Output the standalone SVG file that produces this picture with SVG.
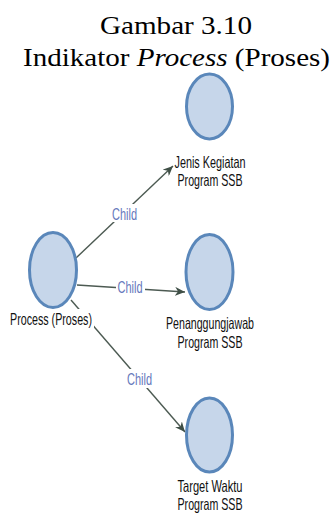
<svg xmlns="http://www.w3.org/2000/svg" width="332" height="514" viewBox="0 0 332 514">
<style>
.title{font-family:"Liberation Serif","Times New Roman",serif;font-size:26px;fill:#000;text-anchor:middle}
.node{fill:#c6d6ea;stroke:#5a87ba;stroke-width:3}
.lbl{font-family:"Liberation Sans",Arial,sans-serif;font-size:16.5px;fill:#111;text-anchor:middle}
.edge{stroke:#4c5a52;stroke-width:1.4;fill:none}
.elbl{font-family:"Liberation Sans",Arial,sans-serif;font-size:16px;fill:#6577bb;text-anchor:middle}
.bg{fill:#fff}
</style>
<defs>
<marker id="arr" markerUnits="userSpaceOnUse" markerWidth="11" markerHeight="9" refX="10" refY="4.5" orient="auto">
<path d="M0,0 L10,4.5 L0,9 L3,4.5 z" fill="#3f4f46"/>
</marker>
</defs>
<rect width="332" height="514" fill="#fff"/>
<g id="title">
<text class="title" x="176" y="34" textLength="152" lengthAdjust="spacingAndGlyphs">Gambar 3.10</text>
<text class="title" x="176.5" y="66" textLength="307" lengthAdjust="spacingAndGlyphs">Indikator <tspan font-style="italic">Process</tspan> (Proses)</text>
</g>
<g id="connectors">
<line class="edge" x1="76" y1="258" x2="173" y2="166" marker-end="url(#arr)"/>
<line class="edge" x1="77" y1="285" x2="185" y2="292" marker-end="url(#arr)"/>
<line class="edge" x1="71" y1="300" x2="185" y2="432" marker-end="url(#arr)"/>
<rect class="bg" x="110" y="204" width="29" height="18"/>
<text class="elbl" x="124.5" y="219.5" textLength="25" lengthAdjust="spacingAndGlyphs">Child</text>
<rect class="bg" x="116" y="278" width="29" height="18"/>
<text class="elbl" x="130" y="293" textLength="25" lengthAdjust="spacingAndGlyphs">Child</text>
<rect class="bg" x="125" y="369" width="29" height="19"/>
<text class="elbl" x="139.5" y="385" textLength="25" lengthAdjust="spacingAndGlyphs">Child</text>
</g>
<g id="node-process">
<ellipse class="node" cx="53" cy="270" rx="23.5" ry="37.5"/>
<rect class="bg" x="8" y="309" width="86" height="21"/>
<text class="lbl" x="51" y="325" textLength="82" lengthAdjust="spacingAndGlyphs">Process (Proses)</text>
</g>
<g id="node-jenis">
<ellipse class="node" cx="209.5" cy="106.5" rx="23" ry="32.5"/>
<text class="lbl" x="210" y="168" textLength="71" lengthAdjust="spacingAndGlyphs">Jenis Kegiatan</text>
<text class="lbl" x="210" y="186" textLength="65" lengthAdjust="spacingAndGlyphs">Program SSB</text>
</g>
<g id="node-penanggungjawab">
<ellipse class="node" cx="209.5" cy="272" rx="23.5" ry="37.5"/>
<text class="lbl" x="210" y="329" textLength="88" lengthAdjust="spacingAndGlyphs">Penanggungjawab</text>
<text class="lbl" x="210" y="348" textLength="65" lengthAdjust="spacingAndGlyphs">Program SSB</text>
</g>
<g id="node-target">
<ellipse class="node" cx="209.5" cy="435" rx="23" ry="37"/>
<text class="lbl" x="210" y="492" textLength="65" lengthAdjust="spacingAndGlyphs">Target Waktu</text>
<text class="lbl" x="210" y="510" textLength="65" lengthAdjust="spacingAndGlyphs">Program SSB</text>
</g>
</svg>
